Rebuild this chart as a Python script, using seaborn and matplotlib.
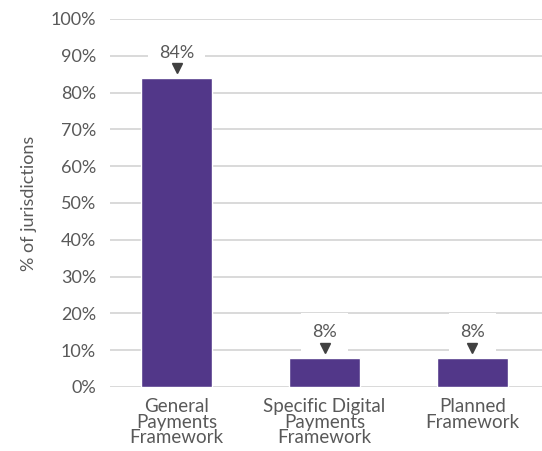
import matplotlib
matplotlib.use("Agg")
import matplotlib.pyplot as plt
import seaborn as sns
import pandas as pd
from matplotlib.ticker import PercentFormatter

# --- Data ---
categories = ["General\nPayments\nFramework",
              "Specific Digital\nPayments\nFramework",
              "Planned\nFramework"]
shares = [84, 8, 8]
yticks = list(range(0, 101, 10))

BAR_COLOR = "#523789"
TEXT_COLOR = "#595959"
GRID_COLOR = "#d9d9d9"

sns.set_theme(style="white")
plt.rcParams["font.family"] = ["Lato", "DejaVu Sans"]

df = pd.DataFrame({"category": categories, "share": shares})

fig = plt.figure(figsize=(5.42, 4.51), dpi=100)
ax = fig.add_axes([0.203, 0.142, 0.797, 0.816])

sns.barplot(data=df, x="category", y="share", color=BAR_COLOR,
            width=0.48, saturation=1, ax=ax, zorder=2)

ax.set_ylim(0, 100)
ax.set_xlim(-0.45, 2.47)
ax.set_yticks(yticks)
ax.yaxis.set_major_formatter(PercentFormatter(decimals=0))
ax.grid(axis="y", color=GRID_COLOR, linewidth=1.4, zorder=0)
ax.set_axisbelow(True)
for s in ax.spines.values():
    s.set_visible(False)

ax.tick_params(axis="y", length=0, labelsize=13, colors=TEXT_COLOR, pad=10)
ax.tick_params(axis="x", length=0, labelsize=13.5, colors=TEXT_COLOR, pad=8)
for lbl in ax.get_xticklabels():
    lbl.set_linespacing(0.9)
ax.set_xlabel("")
ax.set_ylabel("% of jurisdictions", fontsize=13, color=TEXT_COLOR, labelpad=10)

# value labels with a small down arrow above each bar
for i, v in enumerate(shares):
    ax.plot(i, v + 2.6, marker="v", color="#404040", markersize=7, zorder=4)
    ax.text(i, v + 6.8, f"{v}%", ha="center", va="center", fontsize=13,
            color=TEXT_COLOR, zorder=3,
            bbox=dict(facecolor="white", edgecolor="none", pad=8))

fig.savefig("out.png", dpi=100)
